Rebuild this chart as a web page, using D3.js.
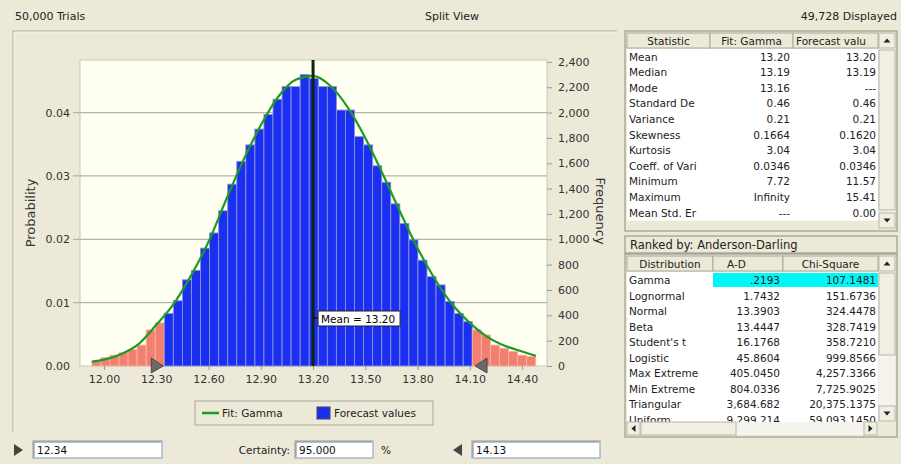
<!DOCTYPE html>
<html>
<head>
<meta charset="utf-8">
<script src="https://cdn.jsdelivr.net/npm/d3@7"></script>
<style>
  body { margin: 0; background: #ece9d8; }
  svg { display: block; font-family: "DejaVu Sans", sans-serif; }
</style>
</head>
<body>
<div id="chart"></div>
<script>
// forecast histogram: left edge of each bin, bin size, probability of each bin
var binLows = [11.930, 11.982, 12.034, 12.086, 12.138, 12.190, 12.242, 12.294, 12.346, 12.398,
               12.450, 12.502, 12.554, 12.606, 12.658, 12.710, 12.762, 12.814, 12.866, 12.918,
               12.970, 13.022, 13.074, 13.126, 13.178, 13.230, 13.282, 13.334, 13.386, 13.438,
               13.490, 13.542, 13.594, 13.646, 13.698, 13.750, 13.802, 13.854, 13.906, 13.958,
               14.010, 14.062, 14.114, 14.166, 14.218, 14.270, 14.322, 14.374, 14.426];
var binWidth = 0.052;
var binProb = [0.0007, 0.0013, 0.0017, 0.0021, 0.0026, 0.0033, 0.0057, 0.0068, 0.0083, 0.0103,
               0.0136, 0.0151, 0.0186, 0.0210, 0.0245, 0.0287, 0.0323, 0.0349, 0.0374, 0.0397,
               0.0421, 0.0441, 0.0441, 0.0460, 0.0454, 0.0441, 0.0441, 0.0404, 0.0404, 0.0362,
               0.0349, 0.0316, 0.0290, 0.0256, 0.0225, 0.0199, 0.0167, 0.0141, 0.0128, 0.0102,
               0.0083, 0.0070, 0.0057, 0.0049, 0.0033, 0.0028, 0.0023, 0.0017, 0.0015];

// fitted gamma curve
var fitX = [11.93, 12.00, 12.10, 12.20, 12.30, 12.40, 12.50, 12.60, 12.70, 12.80, 12.90, 13.00, 13.10,
            13.20, 13.30, 13.40, 13.50, 13.60, 13.70, 13.80, 13.90, 14.00, 14.10, 14.20, 14.30, 14.40, 14.48];
var fitP = [0.0007, 0.0010, 0.0019, 0.0035, 0.0065, 0.0098, 0.0143, 0.0196, 0.0262, 0.0325, 0.0380, 0.0425, 0.0452,
            0.0458, 0.0442, 0.0408, 0.0360, 0.0303, 0.0243, 0.0186, 0.0137, 0.0097, 0.0068, 0.0046, 0.0032, 0.0023, 0.0016];

var meanValue = 13.20;
var lowerCert = 12.34;
var upperCert = 14.13;
var certainty = "95.000";
var trials = 50000;

var xTicks = [12.00, 12.30, 12.60, 12.90, 13.20, 13.50, 13.80, 14.10, 14.40];
var probTicks = [0.00, 0.01, 0.02, 0.03, 0.04];
var freqTicks = [0, 200, 400, 600, 800, 1000, 1200, 1400, 1600, 1800, 2000, 2200, 2400];

var statNames = ["Mean", "Median", "Mode", "Standard De", "Variance", "Skewness", "Kurtosis",
                 "Coeff. of Vari", "Minimum", "Maximum", "Mean Std. Er"];
var statGamma = ["13.20", "13.19", "13.16", "0.46", "0.21", "0.1664", "3.04", "0.0346", "7.72", "Infinity", "---"];
var statForecast = ["13.20", "13.19", "---", "0.46", "0.21", "0.1620", "3.04", "0.0346", "11.57", "15.41", "0.00"];

var distNames = ["Gamma", "Lognormal", "Normal", "Beta", "Student's t", "Logistic",
                 "Max Extreme", "Min Extreme", "Triangular", "Uniform"];
var adValues = [".2193", "1.7432", "13.3903", "13.4447", "16.1768", "45.8604",
                "405.0450", "804.0336", "3,684.682", "9,299.214"];
var chiValues = ["107.1481", "151.6736", "324.4478", "328.7419", "358.7210", "999.8566",
                 "4,257.3366", "7,725.9025", "20,375.1375", "59,093.1450"];

var svgWidth = 901, svgHeight = 464;
var plot = {left: 80, right: 547, top: 60, bottom: 366};

const svg = d3.select("#chart").append("svg")
    .attr("width", svgWidth)
    .attr("height", svgHeight);

svg.append("rect").attr("width", svgWidth).attr("height", svgHeight).attr("fill", "#ece9d8");

// header line
svg.append("text").attr("x", 15).attr("y", 20).attr("font-size", 11).attr("fill", "#222").text("50,000 Trials");
svg.append("text").attr("x", 452).attr("y", 20).attr("font-size", 11).attr("fill", "#222")
    .attr("text-anchor", "middle").text("Split View");
svg.append("text").attr("x", 897).attr("y", 20).attr("font-size", 11).attr("fill", "#222")
    .attr("text-anchor", "end").text("49,728 Displayed");

// chart panel frame
svg.append("path").attr("d", "M13,432 V31 H617").attr("fill", "none").attr("stroke", "#aca899");
svg.append("path").attr("d", "M14,432 V32 H617").attr("fill", "none").attr("stroke", "#fff").attr("stroke-width", 0.6);

var xScale = d3.scaleLinear().domain([11.862, 14.543]).range([plot.left, plot.right]);
var yProb = d3.scaleLinear().domain([0, 0.0483]).range([plot.bottom, plot.top]);
var yFreq = d3.scaleLinear().domain([0, 0.0483 * trials]).range([plot.bottom, plot.top]);

svg.append("rect")
    .attr("x", plot.left).attr("y", plot.top)
    .attr("width", plot.right - plot.left).attr("height", plot.bottom - plot.top)
    .attr("fill", "#fffff2").attr("stroke", "#c8c6bc");

// gridlines on the probability ticks
svg.append("g").selectAll("line")
    .data(probTicks.slice(1))
    .enter().append("line")
    .attr("x1", plot.left - 7).attr("x2", plot.right)
    .attr("y1", d => yProb(d)).attr("y2", d => yProb(d))
    .attr("stroke", "#b5b3aa").attr("stroke-width", 1.2);

// bars
var bars = binLows.map((lo, i) => ({lo: lo, hi: lo + binWidth, p: binProb[i]}));
function inCert(d) {
    var mid = (d.lo + d.hi) / 2;
    return mid >= lowerCert && mid <= upperCert;
}
svg.append("g").selectAll("rect")
    .data(bars)
    .enter().append("rect")
    .attr("x", d => xScale(d.lo))
    .attr("y", d => yProb(d.p))
    .attr("width", d => xScale(d.hi) - xScale(d.lo))
    .attr("height", d => yProb(0) - yProb(d.p))
    .attr("fill", d => inCert(d) ? "#1b2ff2" : "#f2806f")
    .attr("stroke", d => inCert(d) ? "#8b92d6" : "#f6b3a8")
    .attr("stroke-width", 0.9);

// fit curve
var fitLine = d3.line()
    .x((d, i) => xScale(fitX[i]))
    .y(d => yProb(d))
    .curve(d3.curveMonotoneX);
svg.append("path")
    .datum(fitP)
    .attr("d", fitLine)
    .attr("fill", "none")
    .attr("stroke", "#1f9a22")
    .attr("stroke-width", 2.2);

// mean line and label
var mx = xScale(meanValue);
svg.append("line")
    .attr("x1", mx).attr("x2", mx).attr("y1", plot.top).attr("y2", plot.bottom)
    .attr("stroke", "#0d260d").attr("stroke-width", 3);
svg.append("line")
    .attr("x1", mx).attr("x2", mx + 6).attr("y1", 318).attr("y2", 318)
    .attr("stroke", "#000").attr("stroke-width", 1);
var meanLbl = svg.append("g").attr("transform", `translate(${mx + 5}, 311)`);
meanLbl.append("rect").attr("width", 82).attr("height", 15)
    .attr("fill", "#fff").attr("stroke", "#222");
meanLbl.append("text").attr("x", 3).attr("y", 11.5).attr("font-size", 10.5).attr("fill", "#000")
    .text("Mean = " + meanValue.toFixed(2));

// left axis (probability)
const leftAxis = d3.axisLeft(yProb).tickValues(probTicks).tickSize(0).tickPadding(10)
    .tickFormat(d3.format(".2f"));
const gL = svg.append("g").attr("transform", `translate(${plot.left}, 0)`).call(leftAxis);
gL.select(".domain").remove();
gL.selectAll("text").attr("font-size", 11).attr("fill", "#333")
    .attr("font-family", "DejaVu Sans, sans-serif");

// right axis (frequency)
const rightAxis = d3.axisRight(yFreq).tickValues(freqTicks).tickSize(5).tickPadding(6)
    .tickFormat(d3.format(","));
const gR = svg.append("g").attr("transform", `translate(${plot.right}, 0)`).call(rightAxis);
gR.select(".domain").remove();
gR.selectAll("line").attr("stroke", "#999");
gR.selectAll("text").attr("font-size", 11).attr("fill", "#333")
    .attr("font-family", "DejaVu Sans, sans-serif");

// bottom axis
const bottomAxis = d3.axisBottom(xScale).tickValues(xTicks).tickSize(4).tickPadding(5)
    .tickFormat(d3.format(".2f"));
const gB = svg.append("g").attr("transform", `translate(0, ${plot.bottom})`).call(bottomAxis);
gB.select(".domain").remove();
gB.selectAll("line").attr("stroke", "#999");
gB.selectAll("text").attr("font-size", 11).attr("fill", "#333")
    .attr("font-family", "DejaVu Sans, sans-serif");

// axis titles
svg.append("text")
    .attr("transform", `translate(35, ${(plot.top + plot.bottom) / 2}) rotate(-90)`)
    .attr("text-anchor", "middle").attr("font-size", 13).attr("fill", "#333")
    .text("Probability");
svg.append("text")
    .attr("transform", `translate(596, ${(plot.top + plot.bottom) / 2 - 2}) rotate(90)`)
    .attr("text-anchor", "middle").attr("font-size", 13).attr("fill", "#333")
    .text("Frequency");

// certainty grabbers
var lx = xScale(lowerCert), ux = xScale(upperCert);
svg.append("path")
    .attr("d", `M${lx},${plot.bottom} L${lx - 12},${plot.bottom - 8} L${lx - 12},${plot.bottom + 7} Z`)
    .attr("fill", "#6a6a6a").attr("stroke", "#3a3a3a").attr("stroke-width", 0.8);
svg.append("path")
    .attr("d", `M${ux},${plot.bottom} L${ux + 12},${plot.bottom - 8} L${ux + 12},${plot.bottom + 7} Z`)
    .attr("fill", "#6a6a6a").attr("stroke", "#3a3a3a").attr("stroke-width", 0.8);

// legend
const legend = svg.append("g").attr("transform", "translate(195, 401)");
legend.append("rect").attr("width", 238).attr("height", 24)
    .attr("fill", "#ece9d8").attr("stroke", "#aca899");
legend.append("line").attr("x1", 7).attr("x2", 24).attr("y1", 12).attr("y2", 12)
    .attr("stroke", "#1f9a22").attr("stroke-width", 2.5);
legend.append("text").attr("x", 27).attr("y", 16).attr("font-size", 10.5).attr("fill", "#222").text("Fit: Gamma");
legend.append("rect").attr("x", 122).attr("y", 6).attr("width", 13).attr("height", 12)
    .attr("fill", "#1b2ff2").attr("stroke", "#445");
legend.append("text").attr("x", 139).attr("y", 16).attr("font-size", 10.5).attr("fill", "#222").text("Forecast values");

// bottom controls
function inputBox(x, w, label) {
    svg.append("rect").attr("x", x).attr("y", 441).attr("width", w).attr("height", 17)
        .attr("fill", "#fff").attr("stroke", "#7f9db9");
    svg.append("path").attr("d", `M${x + 1},${457} V${442} H${x + w - 1}`)
        .attr("fill", "none").attr("stroke", "#808080");
    svg.append("text").attr("x", x + 4).attr("y", 453.5).attr("font-size", 10.5).attr("fill", "#111").text(label);
}
svg.append("path").attr("d", "M14,444 L23,450 L14,456 Z").attr("fill", "#444");
inputBox(33, 129, lowerCert.toFixed(2));
svg.append("text").attr("x", 290).attr("y", 454).attr("font-size", 10.5).attr("fill", "#222")
    .attr("text-anchor", "end").text("Certainty:");
inputBox(295, 78, certainty);
svg.append("text").attr("x", 381).attr("y", 454).attr("font-size", 10.5).attr("fill", "#222").text("%");
svg.append("path").attr("d", "M462,444 L453,450 L462,456 Z").attr("fill", "#444");
inputBox(472, 128, upperCert.toFixed(2));

// ---- tables ----
function arrow(g, cx, cy, dir) {
    var p = {
        up: `M${cx - 3.5},${cy + 2} L${cx + 3.5},${cy + 2} L${cx},${cy - 2} Z`,
        down: `M${cx - 3.5},${cy - 2} L${cx + 3.5},${cy - 2} L${cx},${cy + 2} Z`,
        left: `M${cx + 2},${cy - 3.5} L${cx + 2},${cy + 3.5} L${cx - 2},${cy} Z`,
        right: `M${cx - 2},${cy - 3.5} L${cx - 2},${cy + 3.5} L${cx + 2},${cy} Z`
    }[dir];
    g.append("path").attr("d", p).attr("fill", "#222");
}
function button(g, x, y, w, h) {
    g.append("rect").attr("x", x).attr("y", y).attr("width", w).attr("height", h)
        .attr("fill", "#f1efe2").attr("stroke", "#b8b5a6");
}

// statistics table
var t1 = {x: 625, y: 31, w: 272, h: 200, cols: [627, 710, 793, 878], rowTop: 49, rowH: 15.6};
const tab1 = svg.append("g");
tab1.append("rect").attr("x", t1.x).attr("y", t1.y).attr("width", t1.w).attr("height", t1.h)
    .attr("fill", "#ece9d8").attr("stroke", "#8e8b7c");
tab1.append("rect").attr("x", t1.x + 2).attr("y", t1.rowTop)
    .attr("width", 251).attr("height", t1.rowH * statNames.length)
    .attr("fill", "#fff");
var head1 = ["Statistic", "Fit: Gamma", "Forecast valu"];
head1.forEach(function(h, i) {
    var x0 = t1.cols[i], x1 = t1.cols[i + 1];
    tab1.append("rect").attr("x", x0).attr("y", 33).attr("width", x1 - x0).attr("height", 15)
        .attr("fill", "#ece9d8").attr("stroke", "#aca899");
    tab1.append("text").attr("x", i < 2 ? (x0 + x1) / 2 : x0 + 3).attr("y", 44.5)
        .attr("text-anchor", i < 2 ? "middle" : "start")
        .attr("font-size", 10.5).attr("fill", "#222").text(h);
});
statNames.forEach(function(n, i) {
    var by = t1.rowTop + i * t1.rowH + 11.5;
    tab1.append("text").attr("x", 629).attr("y", by).attr("font-size", 10.5).attr("fill", "#222").text(n);
    tab1.append("text").attr("x", 790).attr("y", by).attr("text-anchor", "end")
        .attr("font-size", 10.5).attr("fill", "#222").text(statGamma[i]);
    tab1.append("text").attr("x", 876).attr("y", by).attr("text-anchor", "end")
        .attr("font-size", 10.5).attr("fill", "#222").text(statForecast[i]);
});
// vertical scrollbar
tab1.append("rect").attr("x", 879).attr("y", 33).attr("width", 16).attr("height", 196).attr("fill", "#f4f3ee");
button(tab1, 879, 33, 16, 15); arrow(tab1, 887, 40.5, "up");
button(tab1, 879, 50, 16, 160);
button(tab1, 879, 213, 16, 15); arrow(tab1, 887, 220.5, "down");

// goodness of fit table
const tab2 = svg.append("g");
tab2.append("rect").attr("x", 625).attr("y", 236).attr("width", 272).attr("height", 17)
    .attr("fill", "#ece9d8").attr("stroke", "#8e8b7c");
tab2.append("text").attr("x", 630).attr("y", 248.5).attr("font-size", 11.5).attr("fill", "#222")
    .text("Ranked by: Anderson-Darling");
var t2 = {x: 625, y: 254, w: 272, h: 183, cols: [627, 713, 783, 878], rowTop: 272, rowH: 15.5};
tab2.append("rect").attr("x", t2.x).attr("y", t2.y).attr("width", t2.w).attr("height", t2.h)
    .attr("fill", "#ece9d8").attr("stroke", "#8e8b7c");
tab2.append("rect").attr("x", 627).attr("y", t2.rowTop).attr("width", 251).attr("height", 150)
    .attr("fill", "#fff");
var head2 = ["Distribution", "A-D", "Chi-Square"];
head2.forEach(function(h, i) {
    var x0 = t2.cols[i], x1 = t2.cols[i + 1];
    tab2.append("rect").attr("x", x0).attr("y", 256).attr("width", x1 - x0).attr("height", 15)
        .attr("fill", "#ece9d8").attr("stroke", "#aca899");
    tab2.append("text").attr("x", i === 1 ? x0 + 14 : (x0 + x1) / 2).attr("y", 267.5)
        .attr("text-anchor", i === 1 ? "start" : "middle")
        .attr("font-size", 10.5).attr("fill", "#222").text(h);
});
svg.append("clipPath").attr("id", "rows2").append("rect")
    .attr("x", 627).attr("y", t2.rowTop).attr("width", 251).attr("height", 150);
const rows2 = tab2.append("g").attr("clip-path", "url(#rows2)");
rows2.append("rect").attr("x", 713).attr("y", t2.rowTop + 1).attr("width", 165).attr("height", 14)
    .attr("fill", "#00f7f7");
distNames.forEach(function(n, i) {
    var by = t2.rowTop + i * t2.rowH + 12;
    rows2.append("text").attr("x", 629).attr("y", by).attr("font-size", 10.5).attr("fill", "#222").text(n);
    rows2.append("text").attr("x", 780).attr("y", by).attr("text-anchor", "end")
        .attr("font-size", 10.5).attr("fill", "#222").text(adValues[i]);
    rows2.append("text").attr("x", 876).attr("y", by).attr("text-anchor", "end")
        .attr("font-size", 10.5).attr("fill", "#222").text(chiValues[i]);
});
// scrollbars
tab2.append("rect").attr("x", 879).attr("y", 256).attr("width", 16).attr("height", 166).attr("fill", "#f4f3ee");
button(tab2, 879, 256, 16, 15); arrow(tab2, 887, 263.5, "up");
button(tab2, 879, 273, 16, 82);
button(tab2, 879, 406, 16, 15); arrow(tab2, 887, 413.5, "down");
tab2.append("rect").attr("x", 627).attr("y", 422).attr("width", 251).attr("height", 13).attr("fill", "#f4f3ee");
button(tab2, 627, 422, 13, 13); arrow(tab2, 633.5, 428.5, "left");
button(tab2, 641, 422, 95, 13);
button(tab2, 864, 422, 13, 13); arrow(tab2, 870.5, 428.5, "right");
</script>
</body>
</html>
